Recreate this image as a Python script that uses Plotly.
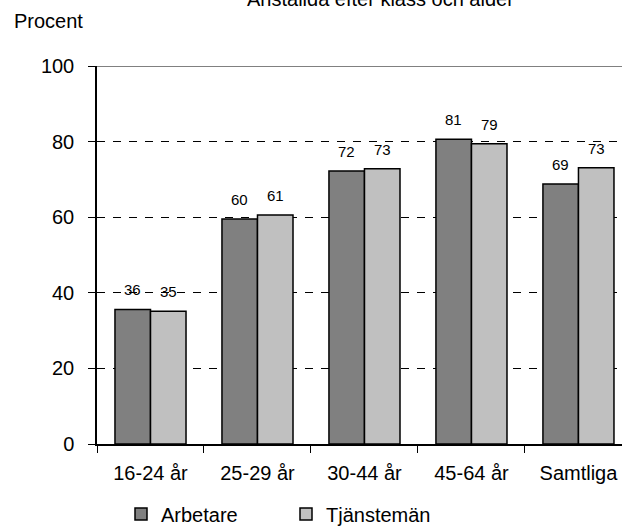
import plotly.graph_objects as go

categories = ["16-24 år", "25-29 år", "30-44 år", "45-64 år", "Samtliga"]
arbetare = [35.6, 59.5, 72.2, 80.6, 68.8]
tjansteman = [35.1, 60.6, 72.8, 79.4, 73.1]
series_names = ["Arbetare", "Tjänstemän"]
y_ticks = [0, 20, 40, 60, 80, 100]
title_text = "Anställda efter klass och ålder"
y_title = "Procent"

FONT = "Liberation Sans, Arial, sans-serif"

W, H = 622, 527
L, T, B = 97, 66, 83
PW, PH = W - L, H - T - B  # 525, 378
BOTTOM = T + PH            # 444

fig = go.Figure()
fig.add_trace(go.Bar(x=categories, y=arbetare, name=series_names[0],
                     marker=dict(color="#808080", line=dict(color="black", width=1.5))))
fig.add_trace(go.Bar(x=categories, y=tjansteman, name=series_names[1],
                     marker=dict(color="#C0C0C0", line=dict(color="black", width=1.5))))

half = 17.8
annotations = []
for vals, shift in ((arbetare, -half), (tjansteman, half)):
    for c, v in zip(categories, vals):
        annotations.append(dict(x=c, y=v, xref="x", yref="y", text=f"{round(v):d}",
                                showarrow=False, xshift=shift, yshift=9, yanchor="bottom",
                                font=dict(family=FONT, size=15, color="black")))
# y-axis caption
annotations.append(dict(x=(12 - L) / PW, y=(BOTTOM - 21) / PH, xref="paper", yref="paper",
                        text=y_title, showarrow=False, xanchor="left", yanchor="middle",
                        font=dict(family=FONT, size=20, color="black")))
# title (partly cut at the top edge, as in the reference)
annotations.append(dict(x=(380 - L) / PW, y=(BOTTOM + 1) / PH, xref="paper", yref="paper",
                        text=title_text, showarrow=False, xanchor="center", yanchor="middle",
                        font=dict(family=FONT, size=20, color="black")))

fig.update_layout(
    width=W, height=H,
    margin=dict(l=L, r=0, t=T, b=B, autoexpand=False),
    paper_bgcolor="white", plot_bgcolor="white",
    font=dict(family=FONT, size=20, color="black"),
    barmode="group", bargap=0.336, bargroupgap=0,
    showlegend=True,
    legend=dict(orientation="h", x=(121 - L) / PW, xanchor="left",
                y=(BOTTOM - 514) / PH, yanchor="middle",
                font=dict(family=FONT, size=20, color="black"),
                entrywidth=120, entrywidthmode="pixels", traceorder="normal"),
    annotations=annotations,
    shapes=[dict(type="line", xref="paper", yref="y", x0=0, x1=1, y0=100, y1=100,
                 line=dict(color="#808080", width=2), layer="above")],
)
fig.update_xaxes(range=[-0.5, 4.407], showline=True, linecolor="black", linewidth=1.5,
                 ticks="outside", tickson="boundaries", ticklen=7, tickcolor="black",
                 tickwidth=1, showgrid=False, ticklabelstandoff=10,
                 tickfont=dict(family=FONT, size=20, color="black"))
fig.update_yaxes(range=[0, 100], tickvals=y_ticks, showline=True, linecolor="black",
                 linewidth=1.5, ticks="outside", ticklen=7, tickcolor="black", tickwidth=1,
                 showgrid=True, gridcolor="black", gridwidth=1, griddash="8px,8px",
                 zeroline=False, ticklabelstandoff=10,
                 tickfont=dict(family=FONT, size=20, color="black"))

fig.write_html("out.html", config={"displayModeBar": False},
               post_script="document.body.style.margin='0px';document.body.style.overflow='hidden';")
